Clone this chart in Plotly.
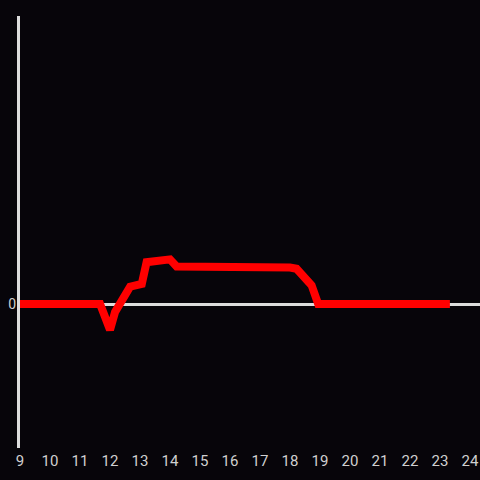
import plotly.graph_objects as go

# time of day (hours) and value
hours = [9.0, 11.67, 12.0, 12.17, 12.67, 13.06, 13.22, 13.72, 14.0, 14.22,
         14.89, 15.22, 18.0, 18.22, 18.72, 18.94, 23.33]
values = [0.0, 0.0, -0.18, -0.055, 0.12, 0.14, 0.29, 0.31, 0.31, 0.26,
          0.26, 0.253, 0.253, 0.245, 0.13, 0.0, 0.0]
x_ticks = list(range(9, 25))

BG = "#07050a"

fig = go.Figure()
fig.add_trace(go.Scatter(x=hours, y=values, mode="lines",
                         line=dict(color="#ff0000", width=8),
                         hoverinfo="skip"))

fig.update_layout(
    width=480, height=480,
    paper_bgcolor=BG, plot_bgcolor=BG,
    margin=dict(l=20, r=0, t=16, b=32, autoexpand=False),
    showlegend=False,
    font=dict(family="Roboto", color="#d0d0d0", size=15),
    xaxis=dict(range=[9, 24 + 1/3], tickvals=x_ticks, ticktext=[str(t) for t in x_ticks],
               showgrid=False, zeroline=False, showline=False, ticks="",
               automargin=False, ticklabelstandoff=2,
               tickfont=dict(color="#d0d0d0", size=15)),
    yaxis=dict(range=[-1, 2], tickvals=[0], ticktext=["0"], showgrid=False,
               zeroline=True, zerolinecolor="#dddddd", zerolinewidth=3,
               showline=True, linecolor="#dddddd", linewidth=3, ticks="",
               automargin=False, ticklabelstandoff=-2,
               tickfont=dict(color="#d0d0d0", size=14)),
)

fig.write_html(
    "out.html",
    config={"displayModeBar": False},
    post_script=f"document.body.style.margin='0';document.body.style.background='{BG}';document.body.style.overflow='hidden';",
)
